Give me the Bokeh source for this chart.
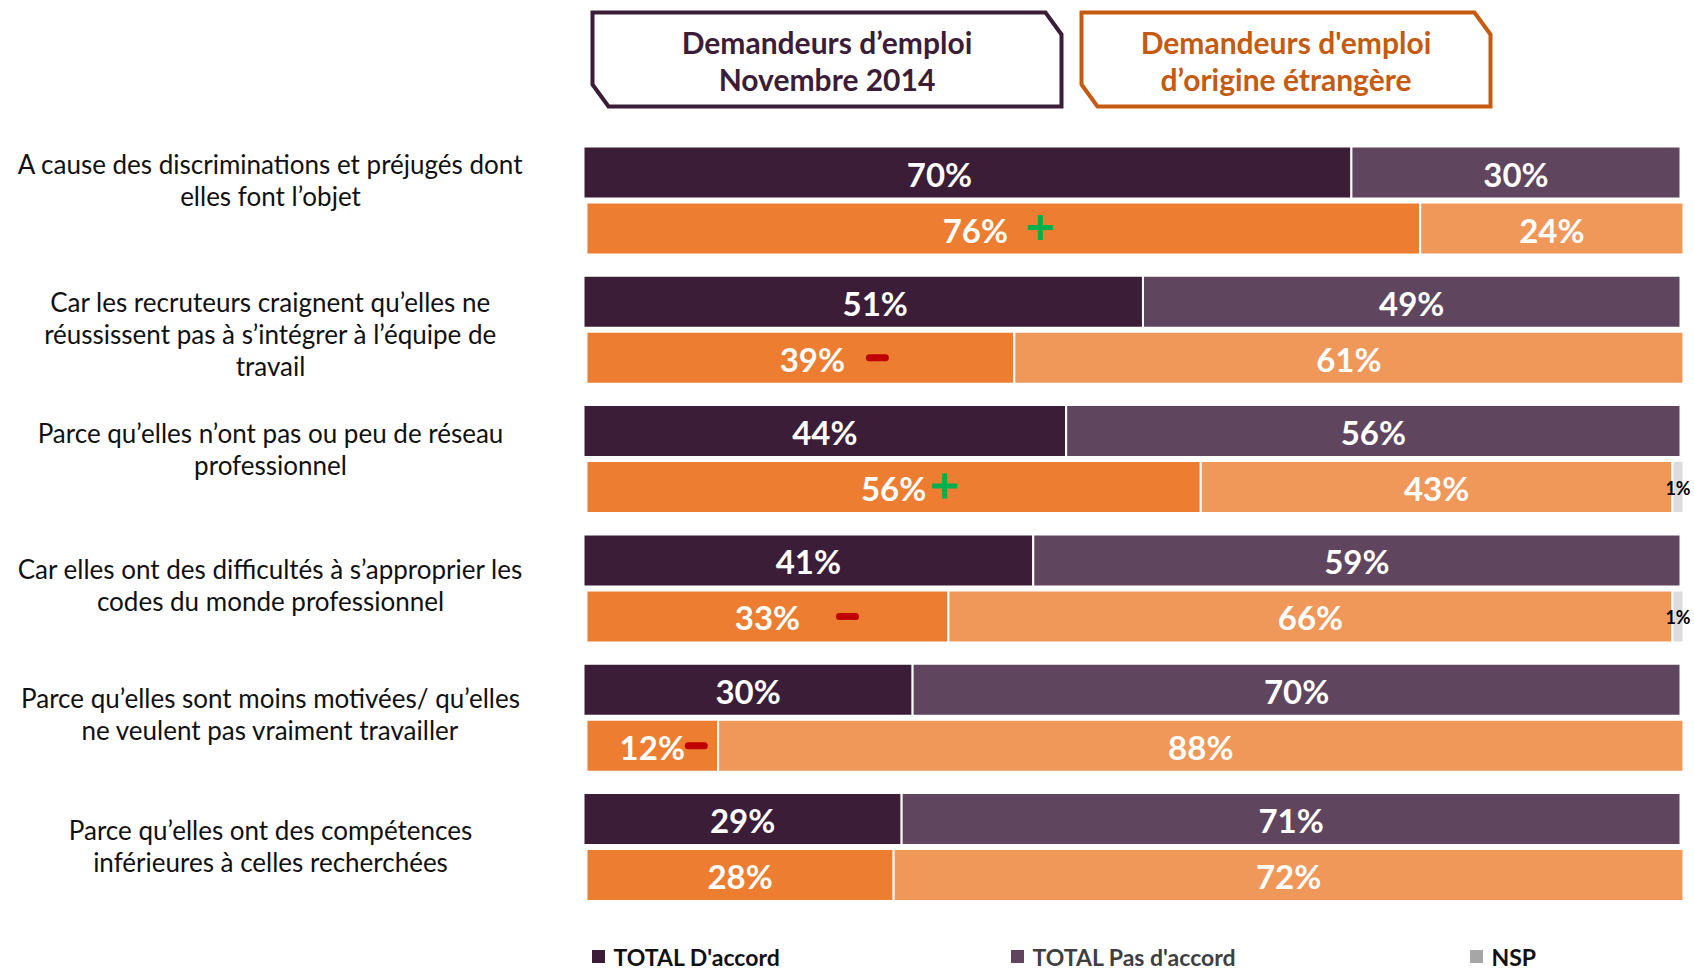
from bokeh.plotting import figure
from bokeh.models import Range1d
from bokeh.core.properties import value
from bokeh.embed import file_html
from bokeh.resources import INLINE

# ---------------- data ----------------
questions = [
    ["A cause des discriminations et préjugés dont", "elles font l’objet"],
    ["Car les recruteurs craignent qu’elles ne", "réussissent pas à s’intégrer à l’équipe de", "travail"],
    ["Parce qu’elles n’ont pas ou peu de réseau", "professionnel"],
    ["Car elles ont des difficultés à s’approprier les", "codes du monde professionnel"],
    ["Parce qu’elles sont moins motivées/ qu’elles", "ne veulent pas vraiment travailler"],
    ["Parce qu’elles ont des compétences", "inférieures à celles recherchées"],
]
all_accord = [70, 51, 44, 41, 30, 29]
all_pas = [30, 49, 56, 59, 70, 71]
etr_accord = [76, 39, 56, 33, 12, 28]
etr_pas = [24, 61, 43, 66, 88, 72]
etr_nsp = [0, 0, 1, 1, 0, 0]
signif = ["+", "-", "+", "-", "-", ""]

header_1 = ["Demandeurs d’emploi", "Novembre 2014"]
header_2 = ["Demandeurs d'emploi", "d’origine étrangère"]
legend_labels = ["TOTAL D'accord", "TOTAL Pas d'accord", "NSP"]

# ---------------- style ----------------
C_DARK = "#3B1D38"
C_MID = "#5F465E"
C_OR = "#ED7D31"
C_LOR = "#F0985A"
C_NSP = "#DCDADC"
C_NSP_LEG = "#A6A6A6"
C_HEAD2 = "#C55A11"
FONT = value("Lato")

W, H = 1694, 972
PX_PER_PCT = 10.97
X0 = -583 / PX_PER_PCT
X1 = X0 + W / PX_PER_PCT


def px2x(px):
    return X0 + px / PX_PER_PCT


p = figure(width=W, height=H, x_range=Range1d(X0, X1), y_range=Range1d(H, 0),
           x_axis_location=None, y_axis_location=None, toolbar_location=None,
           output_backend="svg", min_border=0)
p.grid.visible = False
p.outline_line_color = None
p.background_fill_color = "white"

# layout
ROW_TOP = 146
PITCH = 129.3
BAR_H = 52
GAP = 4
OR_SHIFT = 0.27
label_dy = [-21, 4, -10, -3, -4, -1]
first_label_dx = [-28, 12, 0, 0, 0, 0]
marker_dx = [37, 77, 51, 80, 44, 0]

for i in range(len(questions)):
    t1 = ROW_TOP + i * PITCH
    b1 = t1 + BAR_H
    t2 = b1 + GAP
    b2 = t2 + BAR_H
    # dark row
    a, n = all_accord[i], all_pas[i]
    p.quad(left=[0, a], right=[a, a + n], top=[t1, t1], bottom=[b1, b1],
           fill_color=[C_DARK, C_MID], line_color="white", line_width=2)
    p.text(x=[a / 2, a + n / 2], y=[(t1 + b1) / 2 + 1] * 2, text=[f"{a}%", f"{n}%"],
           x_offset=[first_label_dx[i], 0],
           text_font=FONT, text_font_style="bold", text_font_size="33px",
           text_color="white", text_align="center", text_baseline="middle")
    # orange row
    ea, ep, en = etr_accord[i], etr_pas[i], etr_nsp[i]
    lefts = [OR_SHIFT, OR_SHIFT + ea]
    rights = [OR_SHIFT + ea, OR_SHIFT + ea + ep]
    cols = [C_OR, C_LOR]
    if en:
        lefts.append(OR_SHIFT + ea + ep)
        rights.append(OR_SHIFT + ea + ep + en)
        cols.append(C_NSP)
    p.quad(left=lefts, right=rights, top=[t2] * len(lefts), bottom=[b2] * len(lefts),
           fill_color=cols, line_color="white", line_width=2)
    ym = (t2 + b2) / 2 + 1
    p.text(x=[OR_SHIFT + ea / 2, OR_SHIFT + ea + ep / 2], y=[ym] * 2,
           text=[f"{ea}%", f"{ep}%"], x_offset=[first_label_dx[i], 0],
           text_font=FONT, text_font_style="bold", text_font_size="33px",
           text_color="white", text_align="center", text_baseline="middle")
    if en:
        p.text(x=[OR_SHIFT + ea + ep + en / 2], y=[ym], text=[f"{en}%"],
               x_offset=[0],
               text_font=FONT, text_font_style="bold", text_font_size="18px",
               text_color="black", text_align="center", text_baseline="middle")
    if signif[i] == "+":
        p.scatter(x=[OR_SHIFT + ea / 2 + marker_dx[i] / PX_PER_PCT], y=[ym - 2], marker="cross",
                  size=25, line_width=5, line_color="#00B050")
    elif signif[i] == "-":
        p.scatter(x=[OR_SHIFT + ea / 2 + marker_dx[i] / PX_PER_PCT], y=[ym - 1], marker="dash",
                  size=16, line_width=7, line_color="#C00000", line_cap="round")
    # question label
    lines = questions[i]
    gc = (t1 + b2) / 2 + label_dy[i]
    n_l = len(lines)
    ys = [gc + (k - (n_l - 1) / 2) * 32 for k in range(n_l)]
    p.text(x=[px2x(270)] * n_l, y=ys, text=lines, text_font=FONT, text_font_size="26px",
           text_color="#111111", text_align="center", text_baseline="middle")

# header boxes


def chamfer_box(x_l, x_r, y_t, y_b, c=(16, 22)):
    cx, cy = c
    xs = [x_l, x_r - cx, x_r, x_r, x_l + cx, x_l]
    ys = [y_t, y_t, y_t + cy, y_b, y_b, y_b - cy]
    return [px2x(v) for v in xs], ys


for (xl, xr), col, txt in [((592, 1061), C_DARK, header_1), ((1081, 1490), C_HEAD2, header_2)]:
    xs, ys = chamfer_box(xl, xr, 12, 106)
    p.patch(xs, ys, fill_color="white", line_color=col, line_width=4, line_join="miter")
    p.text(x=[px2x((xl + xr) / 2)] * 2, y=[41, 78], text=txt, text_font=FONT,
           text_font_style="bold", text_font_size="30px", text_color=col,
           text_align="center", text_baseline="middle")

# legend
leg_sq_x = [598, 1017, 1476]
leg_cols = [C_DARK, C_MID, C_NSP_LEG]
leg_txt_cols = ["#111111", "#3F3F3F", "#111111"]
LEG_Y = 956
p.scatter(x=[px2x(v) for v in leg_sq_x], y=[LEG_Y] * 3, marker="square", size=13,
          fill_color=leg_cols, line_color=None)
p.text(x=[px2x(v + 15) for v in leg_sq_x], y=[LEG_Y] * 3, text=legend_labels,
       text_font=FONT, text_font_style="bold", text_font_size="23px",
       text_color=leg_txt_cols, text_align="left", text_baseline="middle")

open("out.html", "w").write(file_html(p, INLINE))
